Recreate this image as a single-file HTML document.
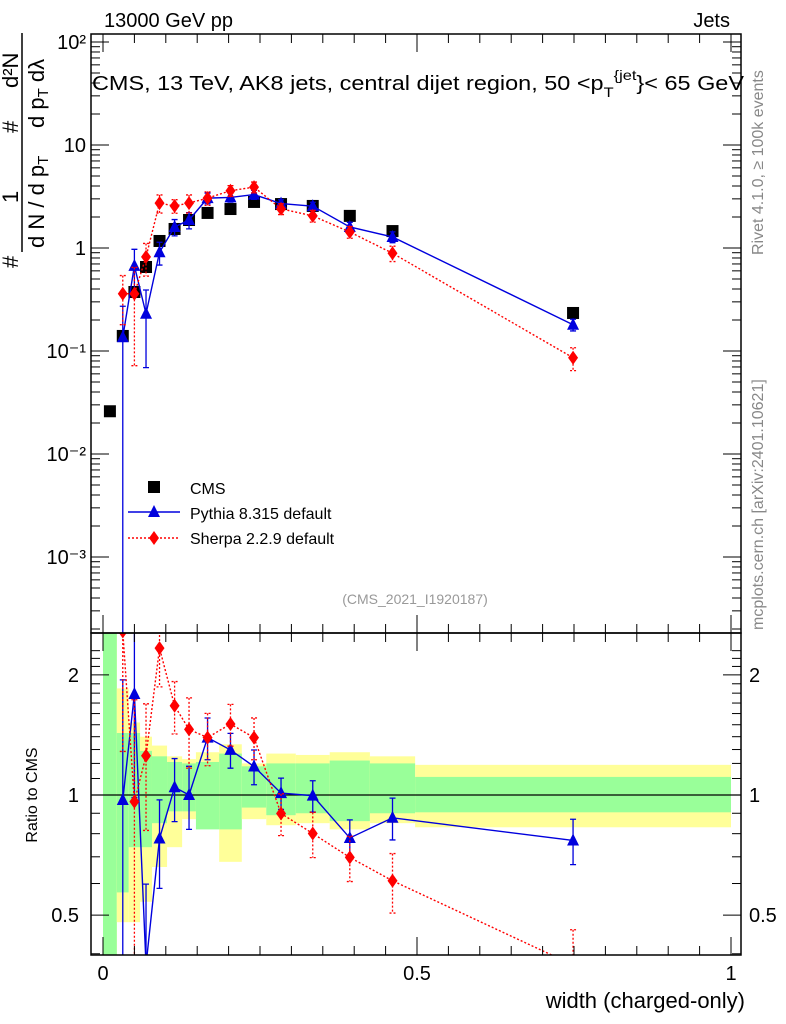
<!DOCTYPE html>
<html><head><meta charset="utf-8">
<style>
html,body{margin:0;padding:0;background:#fff;width:786px;height:1024px;overflow:hidden;position:relative;}
svg{display:block;font-family:"Liberation Sans",sans-serif;}
</style></head>
<body>
<svg id="chart" width="786" height="1024" viewBox="0 0 786 1024" style="position:absolute;left:0;top:0">
<g id="bands"></g>
<g id="marks"></g>
<g id="axes"></g>
</svg>
<svg width="786" height="1024" style="position:absolute;left:0;top:0;font-family:'Liberation Sans',sans-serif">
<text x="104" y="27" font-size="20">13000 GeV pp</text>
<text x="730" y="27" font-size="20" text-anchor="end">Jets</text>
<text x="92" y="90" font-size="20" textLength="652" lengthAdjust="spacingAndGlyphs">CMS, 13 TeV, AK8 jets, central dijet region, 50 &lt;p<tspan font-size="14" dy="7">T</tspan><tspan font-size="14" dy="-17">{jet</tspan><tspan dy="10">}&lt; 65 GeV</tspan></text>
<g transform="translate(18,268) rotate(-90)">
<text x="0" y="0" font-size="22">#</text><text x="65" y="0" font-size="22">1</text><text x="135" y="0" font-size="22">#</text><text x="180" y="0" font-size="22">d²N</text>
<line x1="16" x2="235" y1="4" y2="4" stroke="#000" stroke-width="1.5"/>
<text x="20" y="26" font-size="22">d N / d p<tspan font-size="15" dy="4">T</tspan></text>
<text x="140" y="26" font-size="22">d p<tspan font-size="15" dy="4">T</tspan><tspan dy="-4"> d</tspan>λ</text>
</g>
<text transform="translate(763,255) rotate(-90)" font-size="16" fill="#888">Rivet 4.1.0, ≥ 100k events</text>
<text transform="translate(763,630) rotate(-90)" font-size="16" fill="#888">mcplots.cern.ch [arXiv:2401.10621]</text>
<text x="415" y="604" font-size="14" fill="#999" text-anchor="middle">(CMS_2021_I1920187)</text>
<g>
<rect x="148" y="481" width="12" height="12" fill="#000"/>
<text x="190" y="494" font-size="16">CMS</text>
<line x1="128" x2="180" y1="512" y2="512" stroke="#0000dd" stroke-width="1.4"/>
<path d="M154,505L160,517L148,517Z" fill="#0000dd"/>
<text x="190" y="519" font-size="16">Pythia 8.315 default</text>
<line x1="128" x2="180" y1="538" y2="538" stroke="#ff0000" stroke-width="1.4" stroke-dasharray="2,2"/>
<path d="M154,531L159,538L154,545L149,538Z" fill="#ff0000"/>
<text x="190" y="544" font-size="16">Sherpa 2.2.9 default</text>
</g>
<text transform="translate(37,795) rotate(-90)" font-size="16" text-anchor="middle">Ratio to CMS</text>
<text x="745" y="1008" font-size="22" text-anchor="end">width (charged-only)</text>
</svg>
<script>
// ===== data =====
const binEdges = [0,0.022,0.041,0.059,0.078,0.102,0.126,0.148,0.185,0.221,0.260,0.307,0.361,0.425,0.497,1.0];
const cmsValues = [0.026,0.14,0.374,0.654,1.17,1.53,1.87,2.19,2.39,2.80,2.67,2.56,2.05,1.46,0.234];
const pythiaValues = [null,0.136,0.67,0.23,0.91,1.6,1.87,3.05,3.1,3.3,2.7,2.55,1.6,1.28,0.18];
const pythiaErr = [null,1.0,0.45,0.7,0.25,0.18,0.18,0.12,0.1,0.1,0.09,0.09,0.11,0.12,0.13];
const sherpaValues = [null,0.36,0.36,0.82,2.73,2.56,2.73,3.05,3.6,3.9,2.4,2.05,1.43,0.89,0.086];
const sherpaErr = [null,0.5,0.8,0.35,0.2,0.15,0.2,0.15,0.12,0.12,0.12,0.13,0.13,0.17,0.25];
const yellowUp = [3,1.85,1.52,1.40,1.33,1.25,1.23,1.28,1.34,1.2,1.27,1.26,1.28,1.25,1.19];
const yellowDn = [0.3,0.48,0.48,0.54,0.66,0.74,0.87,0.87,0.68,0.87,0.84,0.85,0.82,0.85,0.83];
const greenUp = [3,1.43,1.43,1.29,1.25,1.21,1.2,1.21,1.27,1.18,1.2,1.2,1.22,1.2,1.11];
const greenDn = [0.3,0.57,0.74,0.74,0.85,0.91,0.91,0.82,0.82,0.93,0.89,0.9,0.86,0.9,0.905];
const mainTicks = [[100,"10²"],[10,"10"],[1,"1"],[0.1,"10⁻¹"],[0.01,"10⁻²"],[0.001,"10⁻³"]];
const ratioTicks = [[2,"2"],[1,"1"],[0.5,"0.5"]];
const xTickLabels = [[0,"0"],[0.5,"0.5"],[1,"1"]];

// ===== geometry =====
const L=91,R=741,T=34,MB=633,RB=955;
const X=v=>103+628*v;
const Y=v=>Math.max(T-10,Math.min(MB+10,248-103*Math.log10(v)));
const YR=v=>Math.max(MB-10,Math.min(RB+10,795-399*Math.log10(v)));
const NS="http://www.w3.org/2000/svg";
const svgEl=document.getElementById('chart');
function mk(tag,attrs,parent){const e=document.createElementNS(NS,tag);for(const k in attrs)e.setAttribute(k,attrs[k]);parent.appendChild(e);return e;}
const bands=document.getElementById('bands'),marks=document.getElementById('marks'),axes=document.getElementById('axes');
const clipM=mk('clipPath',{id:'cm'},svgEl);mk('rect',{x:L,y:T,width:R-L,height:MB-T},clipM);
const clipR=mk('clipPath',{id:'cr'},svgEl);mk('rect',{x:L,y:MB,width:R-L,height:RB-MB},clipR);
const gM=mk('g',{'clip-path':'url(#cm)'},marks);
const gR=mk('g',{'clip-path':'url(#cr)'},marks);
bands.setAttribute('clip-path','url(#cr)');
const ctr=i=>(binEdges[i]+binEdges[i+1])/2;

for(let i=0;i<cmsValues.length;i++){
  const x0=X(binEdges[i]),x1=X(binEdges[i+1]);
  const y=mk('rect',{x:x0,y:YR(yellowUp[i]),width:x1-x0,height:YR(yellowDn[i])-YR(yellowUp[i]),fill:'#ffff99'},bands);
  
  
  const g=mk('rect',{x:x0,y:YR(greenUp[i]),width:x1-x0,height:YR(greenDn[i])-YR(greenUp[i]),fill:'#99ff99'},bands);
  
  
}
mk('line',{x1:L,x2:R,y1:YR(1),y2:YR(1),stroke:'#000','stroke-width':1.3},gR);

function series(vals,errs,color,dash,shape,name){
  [[gM,Y,1],[gR,YR,0]].forEach(([g,fy,main])=>{
    const pts=[];
    vals.forEach((v,i)=>{
      if(v==null)return;
      const val=main?v:v/cmsValues[i];
      const x=X(ctr(i)),y=fy(val);
      pts.push(x+','+y);
      const up=val*(1+errs[i]),dn=Math.max(val*(1-errs[i]),1e-6);
      const eb=mk('path',{d:`M${x},${fy(up)}V${fy(dn)}M${x-3},${fy(up)}h6M${x-3},${fy(dn)}h6`,stroke:color,'stroke-width':1.3,'stroke-dasharray':dash,fill:'none'},g);
      
      
    });
    const pl=mk('polyline',{points:pts.join(' '),fill:'none',stroke:color,'stroke-width':1.4,'stroke-dasharray':dash},g);
    
    
    vals.forEach((v,i)=>{
      if(v==null)return;
      const val=main?v:v/cmsValues[i];
      const x=X(ctr(i)),y=fy(val);
      let m;
      if(shape==='tri')m=mk('path',{d:`M${x},${y-7}L${x+6},${y+5}L${x-6},${y+5}Z`,fill:color},g);
      else m=mk('path',{d:`M${x},${y-7}L${x+5},${y}L${x},${y+7}L${x-5},${y}Z`,fill:color},g);
      
      
    });
  });
}
cmsValues.forEach((v,i)=>{
  const x=X(ctr(i)),y=Y(v);
  const s=mk('rect',{x:x-6,y:y-6,width:12,height:12,fill:'#000'},gM);
  
  
});
series(pythiaValues,pythiaErr,'#0000dd','','tri','pythia');
series(sherpaValues,sherpaErr,'#ff0000','2,2','dia','sherpa');

mk('rect',{x:L,y:T,width:R-L,height:MB-T,fill:'none',stroke:'#000','stroke-width':1.5},axes);
mk('rect',{x:L,y:MB,width:R-L,height:RB-MB,fill:'none',stroke:'#000','stroke-width':1.5},axes);
for(let e=-4;e<=2;e++){for(let k=1;k<=9;k++){const v=k*Math.pow(10,e);const y=248-103*Math.log10(v);if(y<T||y>MB)continue;const len=k===1?18:9;
  mk('line',{x1:L,x2:L+len,y1:y,y2:y,stroke:'#000'},axes);mk('line',{x1:R,x2:R-len,y1:y,y2:y,stroke:'#000'},axes);}}
mainTicks.forEach(([v,t])=>{const y=Y(v);const tx=mk('text',{x:L-5,y:y+7,'text-anchor':'end','font-size':20},axes);tx.textContent=t;});
for(let i=4;i<=23;i++){const v=i/10;const y=795-399*Math.log10(v);if(y<MB||y>RB)continue;const maj=(i===5||i===10||i===20);const len=maj?18:9;
  mk('line',{x1:L,x2:L+len,y1:y,y2:y,stroke:'#000'},axes);mk('line',{x1:R,x2:R-len,y1:y,y2:y,stroke:'#000'},axes);}
ratioTicks.forEach(([v,t])=>{const y=YR(v);let a=mk('text',{x:L-12,y:y+7,'text-anchor':'end','font-size':20},axes);a.textContent=t;
  let b=mk('text',{x:R+8,y:y+7,'text-anchor':'start','font-size':20},axes);b.textContent=t;});
for(let i=0;i<=20;i++){const v=i*0.05,x=X(v);const len=(i%10===0)?18:9;
  [T,MB].forEach(yy=>mk('line',{x1:x,x2:x,y1:yy,y2:yy+len,stroke:'#000'},axes));
  [MB,RB].forEach(yy=>mk('line',{x1:x,x2:x,y1:yy,y2:yy-len,stroke:'#000'},axes));}
xTickLabels.forEach(([v,t])=>{const a=mk('text',{x:X(v),y:980,'text-anchor':'middle','font-size':20},axes);a.textContent=t;});
</script>
</body></html>
